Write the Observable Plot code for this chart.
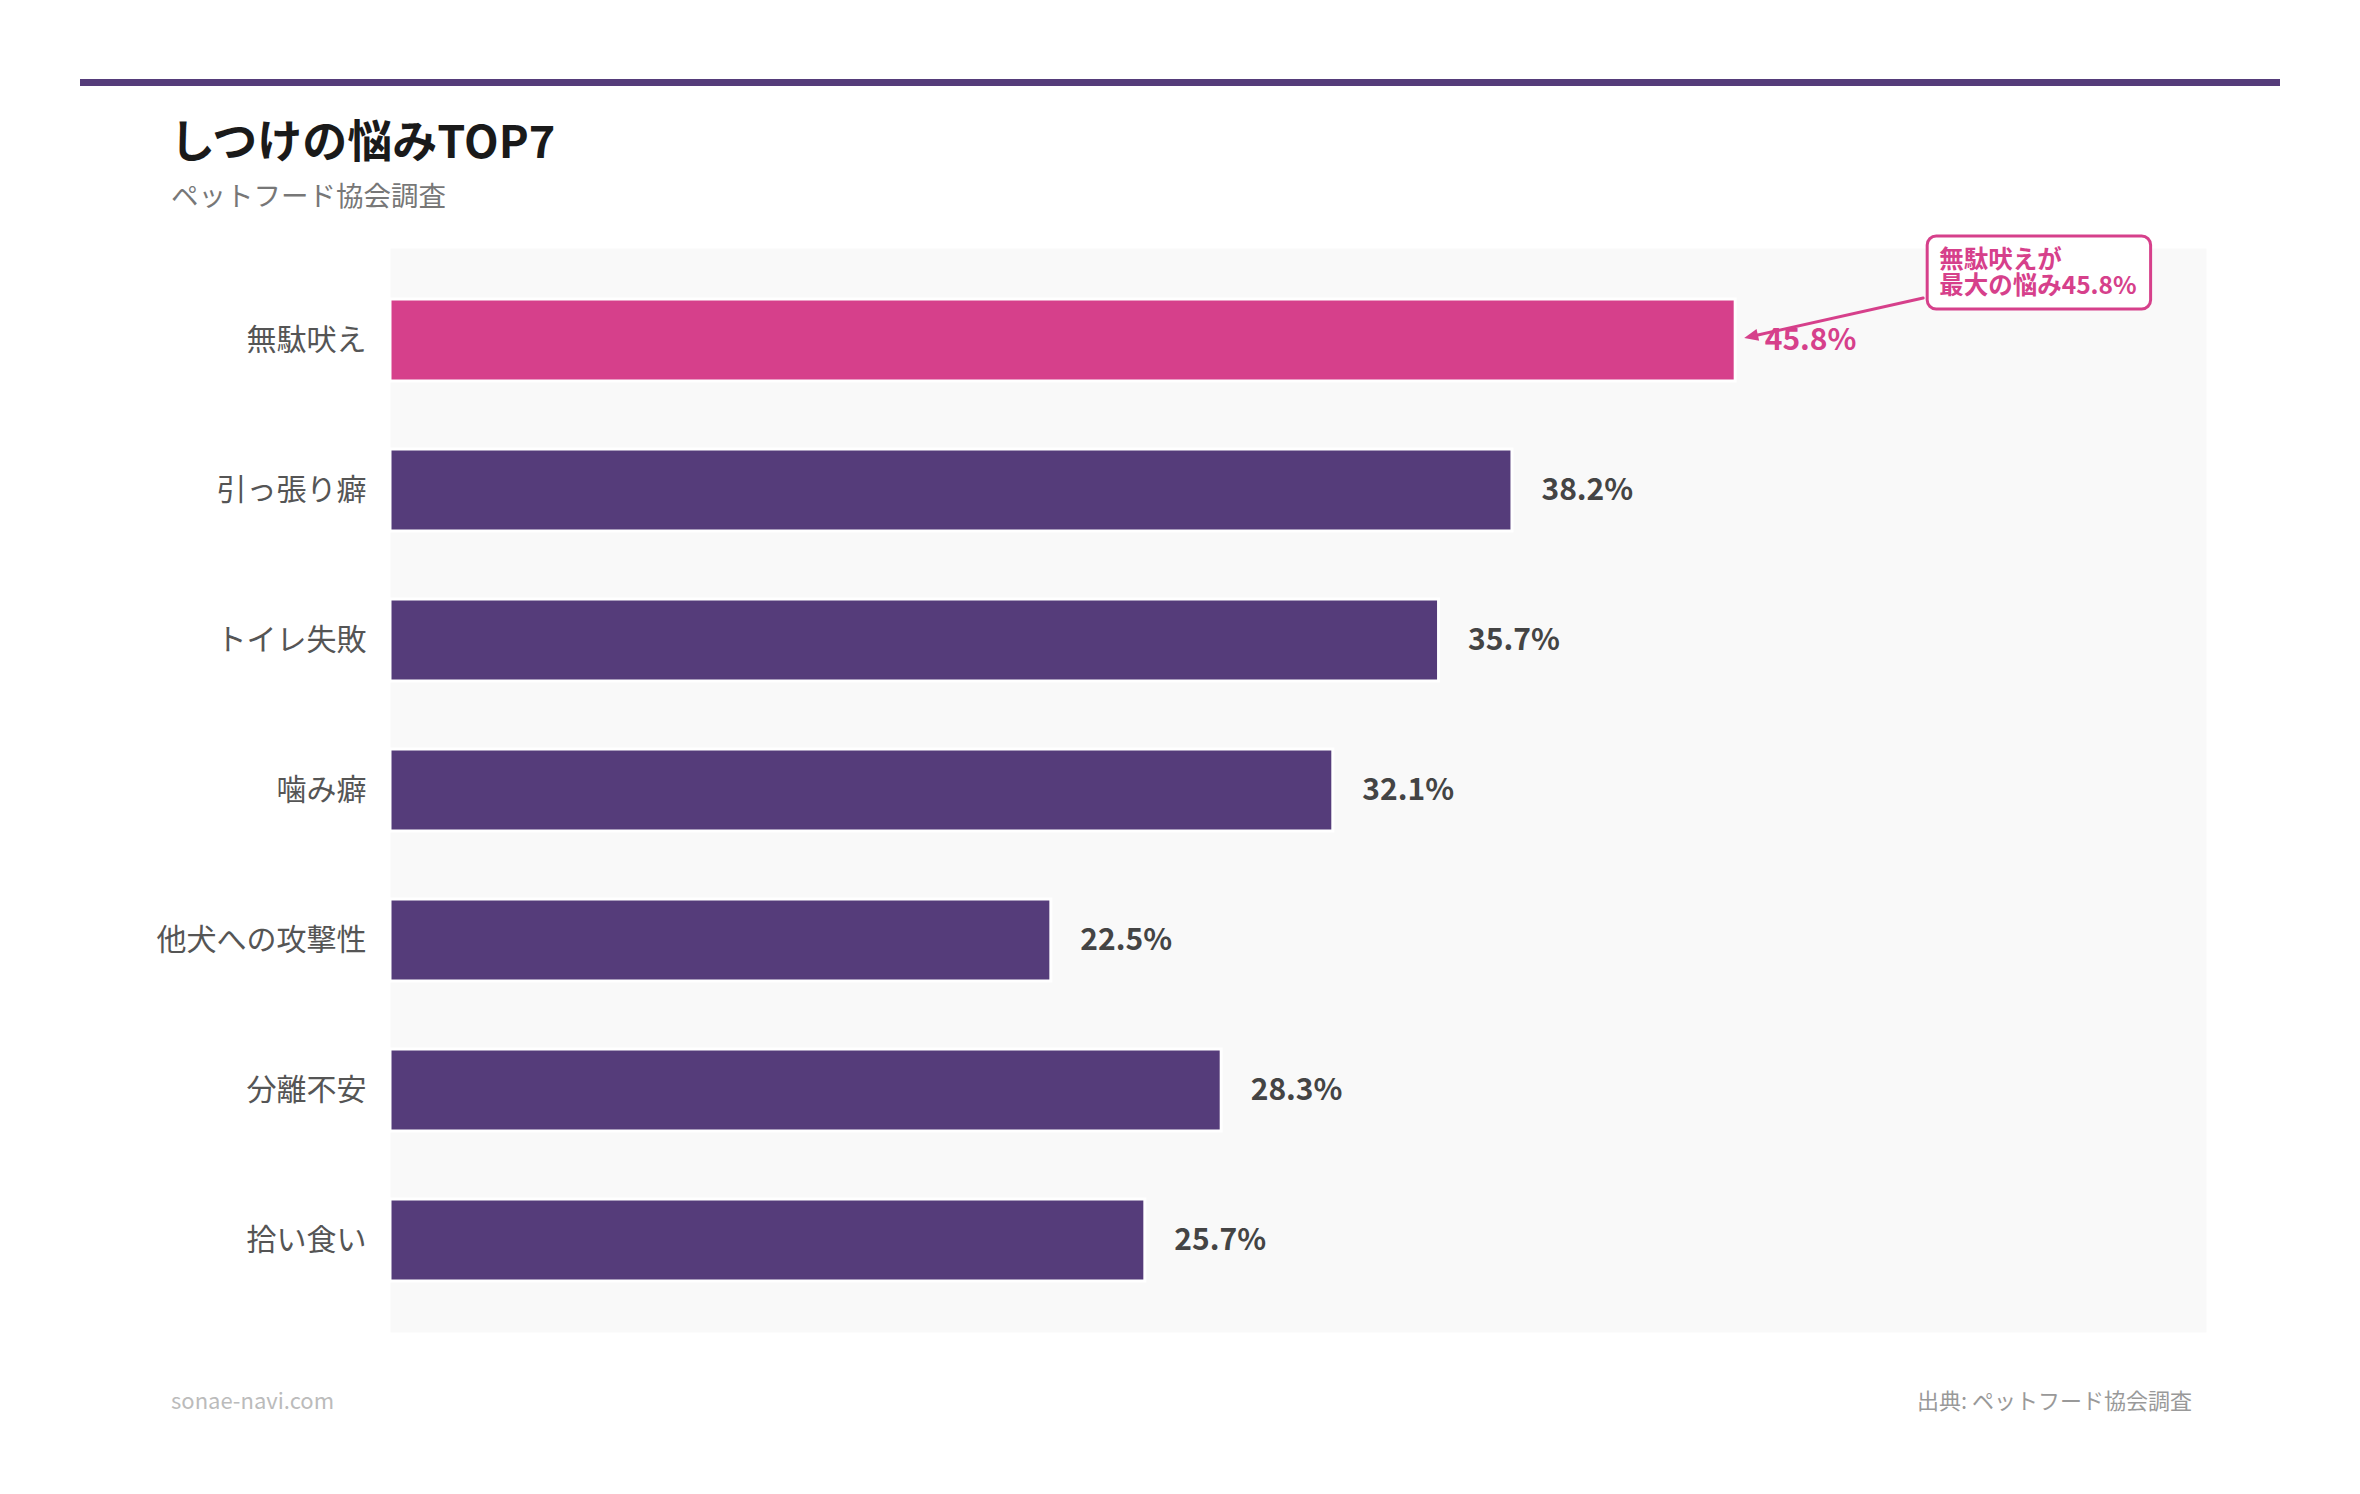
<!DOCTYPE html>
<html>
<head>
<meta charset="utf-8">
<script src="https://cdn.jsdelivr.net/npm/d3@7"></script>
<script src="https://cdn.jsdelivr.net/npm/@observablehq/plot@0.6"></script>
<style>
  html, body { margin: 0; padding: 0; background: #ffffff; }
  body { width: 2360px; height: 1494px; position: relative; overflow: hidden;
         font-family: "Noto Sans CJK JP", "Noto Sans", sans-serif; }
  .abs { position: absolute; line-height: 1; white-space: nowrap; }
  #rule { position: absolute; left: 80px; top: 79px; width: 2200px; height: 7px; background: #553c7a; }
  #title { left: 170px; top: 116px; font-size: 45px; font-weight: 700; color: #1a1a1a; }
  #subtitle { left: 171px; top: 181px; font-size: 27.5px; color: #777; }
  #chart { position: absolute; left: 0; top: 220px; }
  #site { left: 171px; top: 1388px; font-size: 22px; color: #bbb; }
  #source { right: 168px; top: 1388px; font-size: 22px; color: #999; }
</style>
</head>
<body>
<div id="rule"></div>
<div id="title" class="abs"></div>
<div id="subtitle" class="abs"></div>
<div id="chart"></div>
<div id="site" class="abs"></div>
<div id="source" class="abs"></div>
<script>
// ---- data ----
const titleText = "しつけの悩みTOP7";
const subtitleText = "ペットフード協会調査";
const siteText = "sonae-navi.com";
const sourceText = "出典: ペットフード協会調査";
const categories = ["無駄吠え", "引っ張り癖", "トイレ失敗", "噛み癖", "他犬への攻撃性", "分離不安", "拾い食い"];
const values = [45.8, 38.2, 35.7, 32.1, 22.5, 28.3, 25.7];
const highlight = "無駄吠え";
const annotationLines = ["無駄吠えが", "最大の悩み45.8%"];

// ---- styles ----
const purple = "#553c7a";
const pink = "#d6408b";

document.getElementById("title").textContent = titleText;
document.getElementById("subtitle").textContent = subtitleText;
document.getElementById("site").textContent = siteText;
document.getElementById("source").textContent = sourceText;

const data = categories.map((c, i) => ({label: c, value: values[i]}));
const fmt = v => v.toFixed(1) + "%";

const chart = Plot.plot({
  width: 2360,
  height: 1140,
  marginLeft: 390,
  marginRight: 154,
  marginTop: 28,
  marginBottom: 28,
  style: {fontFamily: "'Noto Sans CJK JP', sans-serif", color: "#555", background: "transparent", overflow: "visible"},
  x: {domain: [0, d3.max(values) * 1.35], axis: null},
  y: {domain: categories, paddingInner: 0.455, paddingOuter: 0.329, label: null, axis: null},
  color: {type: "identity"},
  marks: [
    Plot.frame({fill: "#f9f9f9", stroke: "none"}),
    Plot.barX(data, {
      x: "value", y: "label",
      fill: d => d.label === highlight ? pink : purple,
      stroke: "white", strokeWidth: 3
    }),
    Plot.text(data, {
      x: "value", y: "label",
      text: d => fmt(d.value),
      dx: 29, textAnchor: "start",
      fontSize: 30, fontWeight: 700,
      fill: d => d.label === highlight ? pink : "#444"
    }),
    Plot.axisY({tickSize: 0, tickPadding: 24, fontSize: 30, label: null})
  ]
});
document.getElementById("chart").appendChild(chart);

// ---- annotation anchored to the highlighted bar via the plot's scales ----
const xS = chart.scale("x"), yS = chart.scale("y");
const X = xS.apply(values[categories.indexOf(highlight)]);
const cy = yS.apply(highlight) + yS.bandwidth / 2;
const svg = d3.select(chart);
const g = svg.append("g").attr("class", "annotation").attr("text-anchor", "start");

// arrow
const sx = X + 188, sy = cy - 42;
const tx = X + 9, ty = cy - 2;
const dxv = tx - sx, dyv = ty - sy, len = Math.hypot(dxv, dyv);
const ux = dxv / len, uy = dyv / len;
const headL = 14, headW = 6;
const bx = tx - ux * headL, by = ty - uy * headL;
g.append("line").attr("x1", sx).attr("y1", sy).attr("x2", bx).attr("y2", by)
  .attr("stroke", pink).attr("stroke-width", 3).attr("stroke-linecap", "round");
g.append("polygon")
  .attr("points", [[tx, ty], [bx - uy * headW, by + ux * headW], [bx + uy * headW, by - ux * headW]].map(p => p.join(",")).join(" "))
  .attr("fill", pink);

// box + two-line text (single text element with tspans)
const boxX = X + 192, boxY = cy - 104;
const rect = g.append("rect");
const t = g.append("text")
  .attr("x", boxX + 12).attr("y", cy - 72)
  .attr("text-anchor", "start")
  .attr("fill", pink).attr("font-size", 24.5).attr("font-weight", 700)
  .attr("font-family", "'Noto Sans CJK JP', sans-serif");
let maxW = 0;
annotationLines.forEach((line, i) => {
  const ts = t.append("tspan").attr("x", boxX + 12).attr("dy", i === 0 ? 0 : 26).text(line);
  maxW = Math.max(maxW, ts.node().getComputedTextLength());
});
rect.attr("x", boxX).attr("y", boxY).attr("width", maxW + 26).attr("height", 73)
  .attr("rx", 9).attr("fill", "white").attr("stroke", pink).attr("stroke-width", 3);
</script>
</body>
</html>
